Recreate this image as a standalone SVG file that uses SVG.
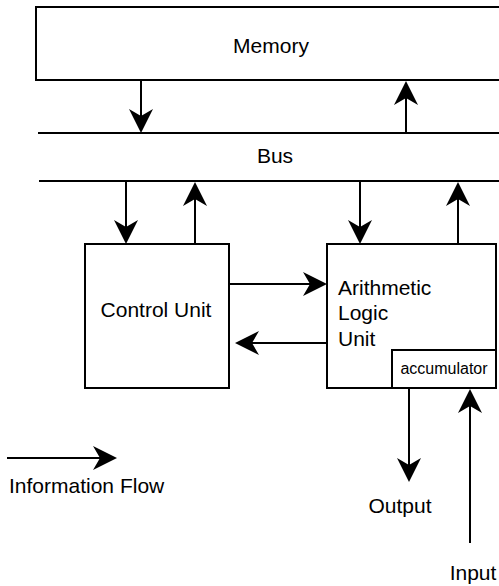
<svg xmlns="http://www.w3.org/2000/svg" width="499" height="586" viewBox="0 0 499 586">
  <style>
    .box { fill: #fff; stroke: #000; stroke-width: 2; }
    .ln { fill: none; stroke: #000; stroke-width: 2; }
    .arr { fill: none; stroke: #000; stroke-width: 2; marker-end: url(#ah); }
    text { font-family: "Liberation Sans", Arial, sans-serif; font-size: 21px; fill: #000; }
    .mid { text-anchor: middle; }
    .small { font-size: 16px; }
  </style>
  <defs>
    <marker id="ah" markerUnits="userSpaceOnUse" viewBox="-26 -13 28 26" refX="-3" refY="0" markerWidth="28" markerHeight="26" orient="auto">
      <path d="M0,0 L-24,-12 L-17,0 L-24,12 Z" fill="#000"/>
    </marker>
  </defs>
  <rect width="499" height="586" fill="#fff"/>

  <g id="memory">
    <rect class="box" x="36" y="7" width="480" height="73"/>
    <text class="mid" x="271" y="53">Memory</text>
  </g>

  <g id="bus">
    <line class="ln" x1="38" y1="133" x2="499" y2="133"/>
    <line class="ln" x1="39" y1="181" x2="499" y2="181"/>
    <text class="mid" x="275" y="163">Bus</text>
  </g>

  <g id="control-unit">
    <rect class="box" x="85" y="244" width="144" height="144"/>
    <text class="mid" x="156" y="317">Control Unit</text>
  </g>

  <g id="alu">
    <rect class="box" x="327" y="244" width="169" height="144"/>
    <text x="338" y="295">Arithmetic</text>
    <text x="338" y="320">Logic</text>
    <text x="338" y="346">Unit</text>
  </g>

  <g id="accumulator">
    <rect class="box" x="392" y="350" width="104" height="38"/>
    <text class="mid small" x="444" y="374">accumulator</text>
  </g>

  <g id="labels">
    <text class="mid" x="400" y="513">Output</text>
    <text class="mid" x="473" y="580">Input</text>
    <text x="9" y="493">Information Flow</text>
  </g>

  <g id="connectors">
    <line class="arr" x1="141" y1="80" x2="141" y2="130"/>
    <line class="arr" x1="406" y1="133" x2="406" y2="84"/>
    <line class="arr" x1="126" y1="181" x2="126" y2="241"/>
    <line class="arr" x1="195" y1="244" x2="195" y2="185"/>
    <line class="arr" x1="360" y1="181" x2="360" y2="241"/>
    <line class="arr" x1="458" y1="244" x2="458" y2="185"/>
    <line class="arr" x1="229" y1="284" x2="324" y2="284"/>
    <line class="arr" x1="327" y1="343" x2="238" y2="343"/>
    <line class="arr" x1="409" y1="388" x2="409" y2="479"/>
    <line class="arr" x1="470" y1="543" x2="470" y2="392"/>
    <line class="arr" x1="7" y1="458" x2="114" y2="458"/>
  </g>
</svg>
